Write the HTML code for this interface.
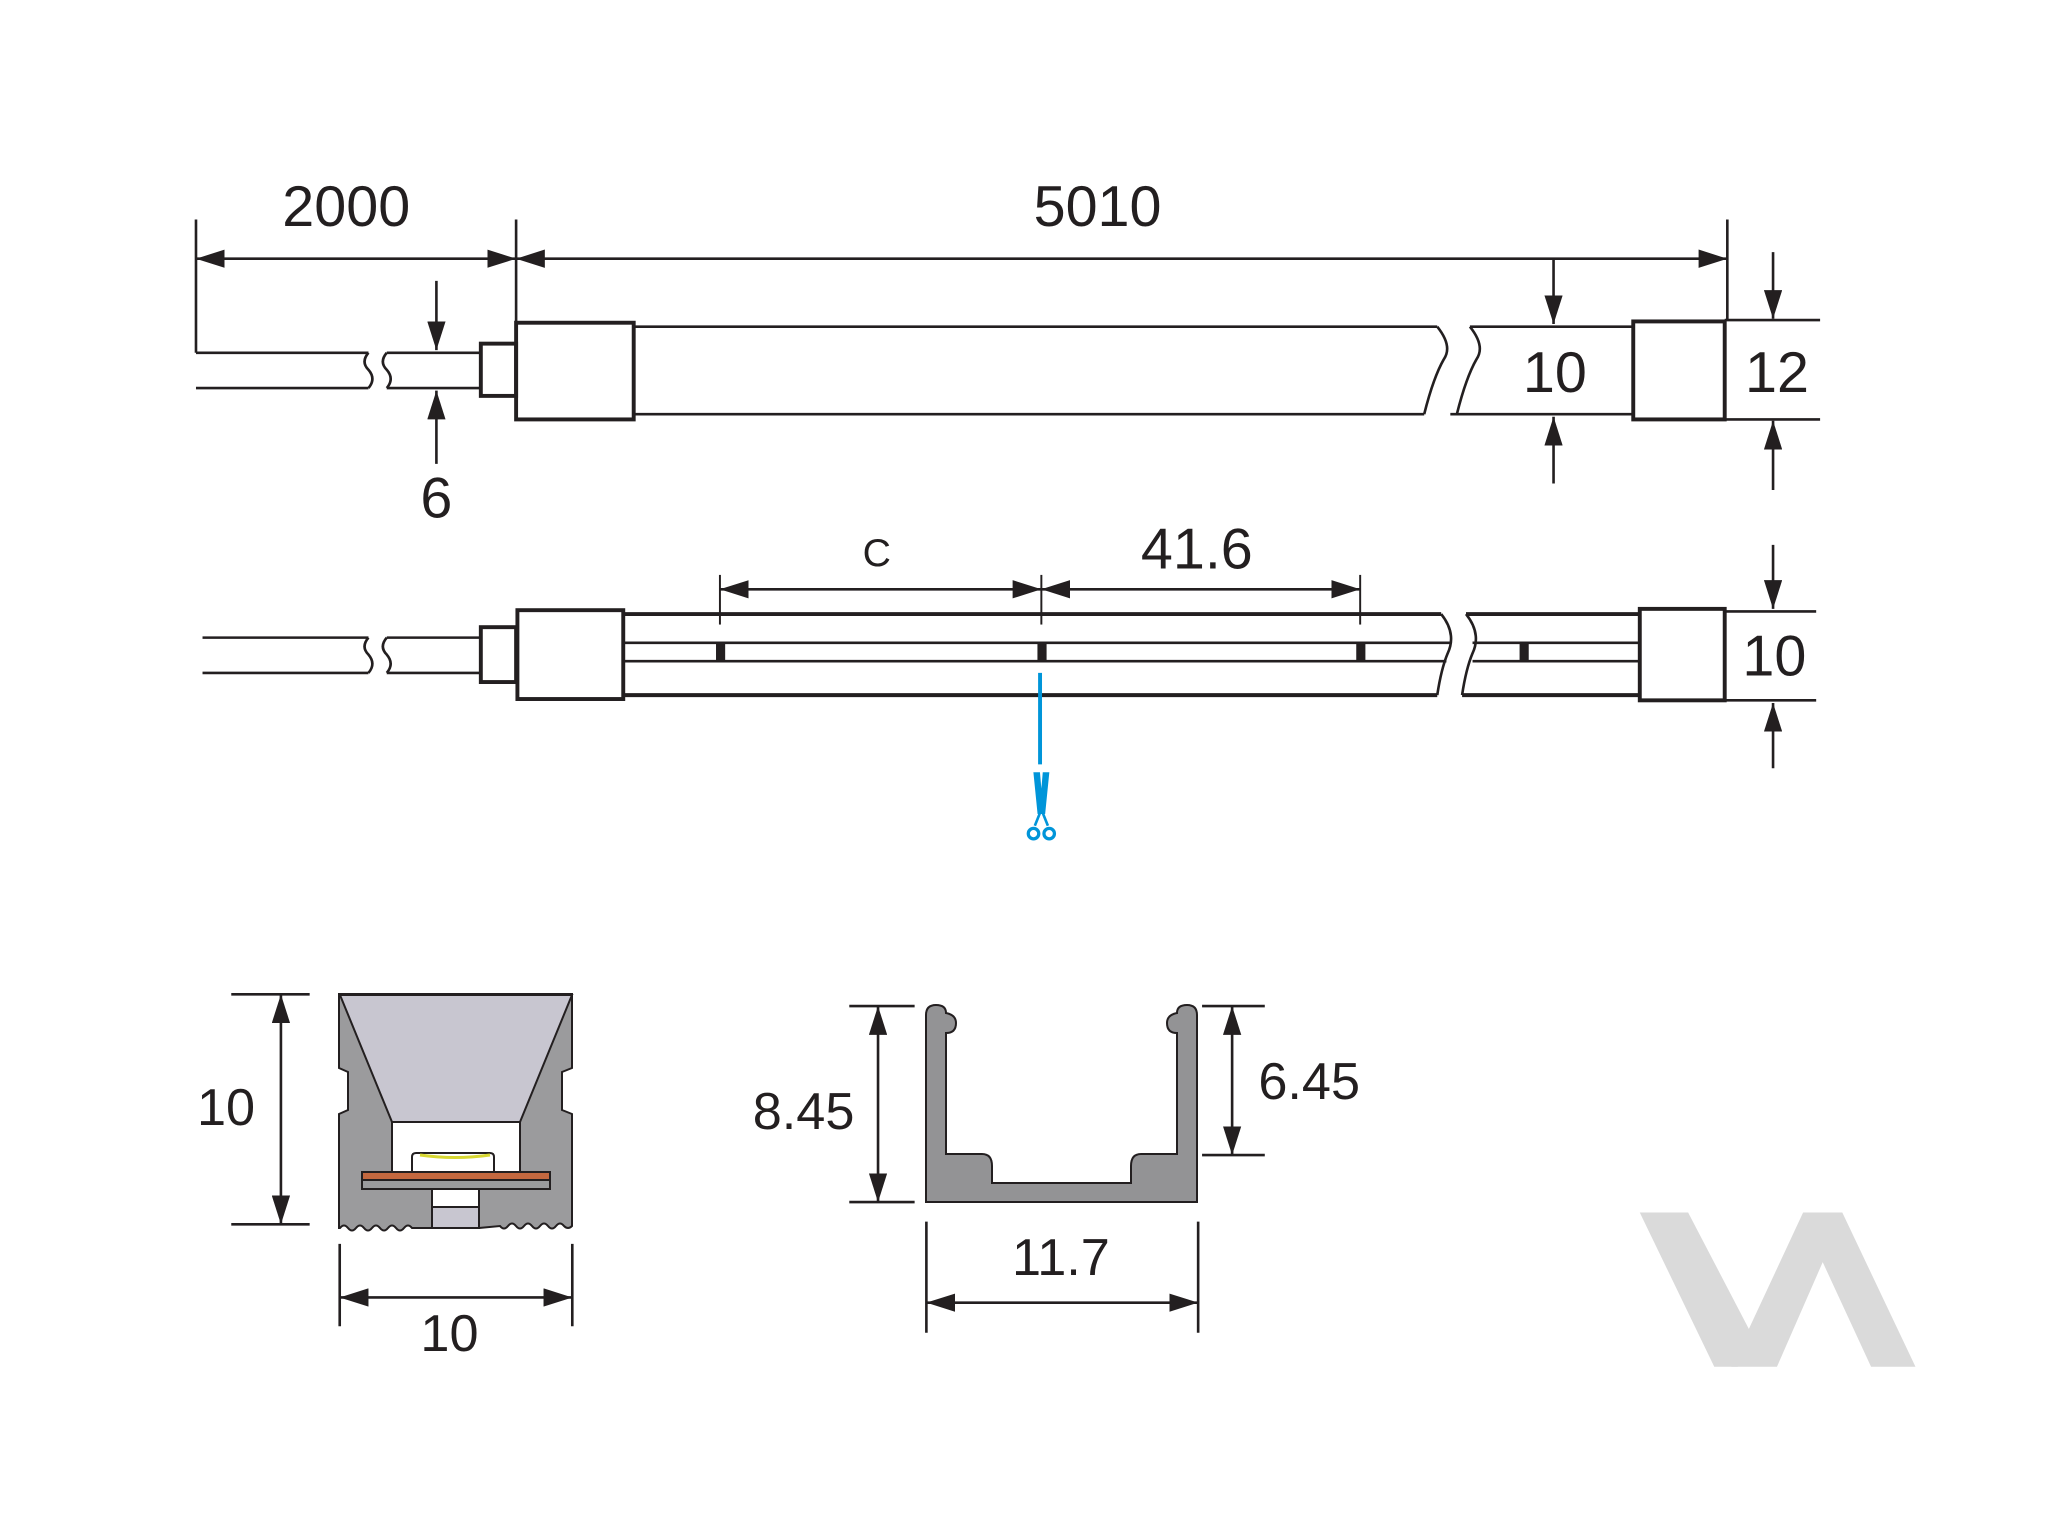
<!DOCTYPE html>
<html><head><meta charset="utf-8"><style>
html,body{margin:0;padding:0;background:#fff;}
svg{display:block;}
text{font-family:"Liberation Sans",sans-serif;fill:#231f20;}
</style></head><body>
<svg width="2048" height="1536" viewBox="0 0 2048 1536" xmlns="http://www.w3.org/2000/svg">
<defs>
<marker id="a" markerUnits="userSpaceOnUse" markerWidth="24" markerHeight="14" refX="22" refY="7" orient="auto-start-reverse"><path d="M0,0 L22,7 L0,14 z" fill="#231f20"/></marker>
</defs>
<g transform="scale(1.3066)" stroke="#231f20" fill="none" stroke-width="2">
<line x1="150" y1="270" x2="282" y2="270"/><line x1="150" y1="297" x2="282" y2="297"/>
<path d="M282,270 q-6,7 0,13 q6,7 0,14"/>
<path d="M296,270 q-6,7 0,13 q6,7 0,14"/>
<line x1="296" y1="270" x2="368" y2="270"/><line x1="296" y1="297" x2="368" y2="297"/>
<rect x="368" y="263" width="27" height="40" stroke-width="3"/>
<rect x="395" y="247" width="90" height="74" stroke-width="3"/>
<line x1="485" y1="250" x2="1100" y2="250"/><line x1="485" y1="317" x2="1090" y2="317"/>
<path d="M1100,250 q12,15 5,25 q-8,14 -15,42"/>
<path d="M1125,250 q12,15 5,25 q-8,14 -15,42"/>
<line x1="1125" y1="250" x2="1250" y2="250"/><line x1="1110" y1="317" x2="1250" y2="317"/>
<rect x="1250" y="246" width="70" height="75" stroke-width="3"/>
<line x1="1320" y1="245" x2="1393" y2="245"/><line x1="1320" y1="321" x2="1393" y2="321"/>
<line x1="150" y1="168" x2="150" y2="270"/><line x1="395" y1="168" x2="395" y2="247"/><line x1="1322" y1="168" x2="1322" y2="245"/>
<line x1="150" y1="198" x2="395" y2="198" marker-start="url(#a)" marker-end="url(#a)"/>
<line x1="395" y1="198" x2="1322" y2="198" marker-start="url(#a)" marker-end="url(#a)"/>
<line x1="334" y1="215" x2="334" y2="268" marker-end="url(#a)"/>
<line x1="334" y1="355" x2="334" y2="299" marker-end="url(#a)"/>
<line x1="1189" y1="198" x2="1189" y2="248" marker-end="url(#a)"/>
<line x1="1189" y1="370" x2="1189" y2="319" marker-end="url(#a)"/>
<line x1="1357" y1="193" x2="1357" y2="244" marker-end="url(#a)"/>
<line x1="1357" y1="375" x2="1357" y2="322" marker-end="url(#a)"/>
<line x1="155" y1="488" x2="282" y2="488"/><line x1="155" y1="515" x2="282" y2="515"/>
<path d="M282,488 q-6,7 0,13 q6,7 0,14"/>
<path d="M296,488 q-6,7 0,13 q6,7 0,14"/>
<line x1="296" y1="488" x2="368" y2="488"/><line x1="296" y1="515" x2="368" y2="515"/>
<rect x="368" y="480" width="27" height="42" stroke-width="3"/>
<rect x="396" y="467" width="81" height="68" stroke-width="3"/>
<line x1="477" y1="470" x2="1103" y2="470" stroke-width="3"/><line x1="477" y1="532" x2="1100" y2="532" stroke-width="3"/>
<line x1="477" y1="492" x2="1110" y2="492"/><line x1="477" y1="506" x2="1107" y2="506"/>
<path d="M1103,470 q12,15 5,30 q-5,12 -8,32"/>
<path d="M1122,470 q12,15 5,30 q-5,12 -8,32"/>
<line x1="1122" y1="470" x2="1255" y2="470" stroke-width="3"/><line x1="1119" y1="532" x2="1255" y2="532" stroke-width="3"/>
<line x1="1127" y1="492" x2="1255" y2="492"/><line x1="1127" y1="506" x2="1255" y2="506"/>
<rect x="1255" y="466" width="65" height="70" stroke-width="3"/>
<line x1="1320" y1="468" x2="1390" y2="468"/><line x1="1320" y1="536" x2="1390" y2="536"/>
<line x1="1357" y1="417" x2="1357" y2="466" marker-end="url(#a)"/>
<line x1="1357" y1="588" x2="1357" y2="538" marker-end="url(#a)"/>
<g fill="#231f20" stroke="none">
<rect x="548" y="492" width="7" height="14"/><rect x="794" y="492" width="7" height="14"/><rect x="1038" y="492" width="7" height="14"/><rect x="1163" y="492" width="7" height="14"/>
</g>
<line x1="551" y1="440" x2="551" y2="478" stroke-width="1.5"/><line x1="797" y1="440" x2="797" y2="478" stroke-width="1.5"/><line x1="1041" y1="440" x2="1041" y2="478" stroke-width="1.5"/>
<line x1="551" y1="451" x2="797" y2="451" marker-start="url(#a)" marker-end="url(#a)"/>
<line x1="797" y1="451" x2="1041" y2="451" marker-start="url(#a)" marker-end="url(#a)"/>
<line x1="796" y1="515" x2="796" y2="585" stroke="#0095d9" stroke-width="3"/>
<path d="M792,592 L795,622 L799,622 L802,592 L799,592 L797,615 L795,592 z" fill="#0095d9" stroke="#0095d9" stroke-width="2"/>
<path d="M796,622 L792,632 M798,622 L802,632" stroke="#0095d9" stroke-width="2"/>
<circle cx="791" cy="638" r="4" stroke="#0095d9" stroke-width="2.5"/><circle cx="803" cy="638" r="4" stroke="#0095d9" stroke-width="2.5"/>
<line x1="177" y1="761" x2="237" y2="761"/><line x1="177" y1="937" x2="237" y2="937"/>
<line x1="215" y1="761" x2="215" y2="937" marker-start="url(#a)" marker-end="url(#a)"/>
<line x1="260" y1="952" x2="260" y2="1015"/><line x1="438" y1="952" x2="438" y2="1015"/>
<line x1="260" y1="993" x2="438" y2="993" marker-start="url(#a)" marker-end="url(#a)"/>
<line x1="650" y1="770" x2="700" y2="770"/><line x1="650" y1="920" x2="700" y2="920"/>
<line x1="672" y1="770" x2="672" y2="920" marker-start="url(#a)" marker-end="url(#a)"/>
<line x1="920" y1="770" x2="968" y2="770"/><line x1="920" y1="884" x2="968" y2="884"/>
<line x1="943" y1="770" x2="943" y2="884" marker-start="url(#a)" marker-end="url(#a)"/>
<line x1="709" y1="935" x2="709" y2="1020"/><line x1="917" y1="935" x2="917" y2="1020"/>
<line x1="709" y1="997" x2="917" y2="997" marker-start="url(#a)" marker-end="url(#a)"/>
<g fill="#dadada" stroke="none">
<polygon points="1255,928 1292,928 1340,1020 1330,1046 1312,1046"/>
<polygon points="1325,1046 1380,928 1410,928 1466,1046 1432,1046 1395,966 1360,1046"/>
</g>
</g>
<g transform="scale(1.3066)">
<text x="265" y="173" font-size="44" text-anchor="middle">2000</text>
<text x="840" y="173" font-size="44" text-anchor="middle">5010</text>
<text x="334" y="396" font-size="44" text-anchor="middle">6</text>
<text x="1190" y="300" font-size="44" text-anchor="middle">10</text>
<text x="1360" y="300" font-size="44" text-anchor="middle">12</text>
<text x="671" y="433" font-size="30" text-anchor="middle">C</text>
<text x="916" y="435" font-size="44" text-anchor="middle">41.6</text>
<text x="1358" y="517" font-size="44" text-anchor="middle">10</text>
<text x="173" y="861" font-size="40" text-anchor="middle">10</text>
<text x="344" y="1034" font-size="40" text-anchor="middle">10</text>
<text x="615" y="864" font-size="40" text-anchor="middle">8.45</text>
<text x="1002" y="841" font-size="40" text-anchor="middle">6.45</text>
<text x="812" y="976" font-size="40" text-anchor="middle">11.7</text>
</g>
<g stroke="#231f20" stroke-width="2">
<path d="M339,994 L572,994 L572,1068 L562,1072 L562,1110 L572,1114 L572,1226 q-4,4 -8,0 q-4,-5 -8,0 q-4,5 -8,0 q-4,-5 -8,0 q-4,5 -8,0 q-4,-5 -8,0 q-4,5 -8,0 q-4,-5 -8,0 q-4,5 -8,0 L479,1228 L432,1228 L412,1228 q-4,-5 -8,0 q-4,5 -8,0 q-4,-5 -8,0 q-4,5 -8,0 q-4,-5 -8,0 q-4,5 -8,0 q-4,-5 -8,0 q-4,5 -8,0 q-4,-5 -8,0 L339,1228 L339,1114 L348,1110 L348,1072 L339,1068 Z" fill="#9b9b9d"/>
<path d="M340,995 L572,995 L520,1122 L392,1122 Z" fill="#c8c6d0"/>
<rect x="392" y="1122" width="128" height="50" fill="#fff"/>
<path d="M412,1172 L412,1157 q0,-4 4,-4 L490,1153 q4,0 4,4 L494,1172" fill="#fff"/>
<path d="M420,1155 q35,5 70,0" stroke="#d8d832" stroke-width="3" fill="none"/>
<rect x="362" y="1172" width="188" height="8" fill="#c4683f"/>
<rect x="362" y="1180" width="188" height="9" fill="#9b9b9d"/>
<rect x="432" y="1189" width="47" height="18" fill="#fff"/>
<rect x="432" y="1207" width="47" height="21" fill="#c8c6d0"/>
</g>
<path d="M926,1015 q0,-10 10,-10 q10,0 10,8 q10,2 10,10 q0,10 -10,10 L946,1154 L982,1154 q10,0 10,12 L992,1183 L1131,1183 L1131,1166 q0,-12 10,-12 L1177,1154 L1177,1033 q-10,0 -10,-10 q0,-8 10,-10 q0,-8 10,-8 q10,0 10,10 L1197,1202 L926,1202 Z" fill="#939395" stroke="#231f20" stroke-width="2"/>
</svg>
</body></html>
